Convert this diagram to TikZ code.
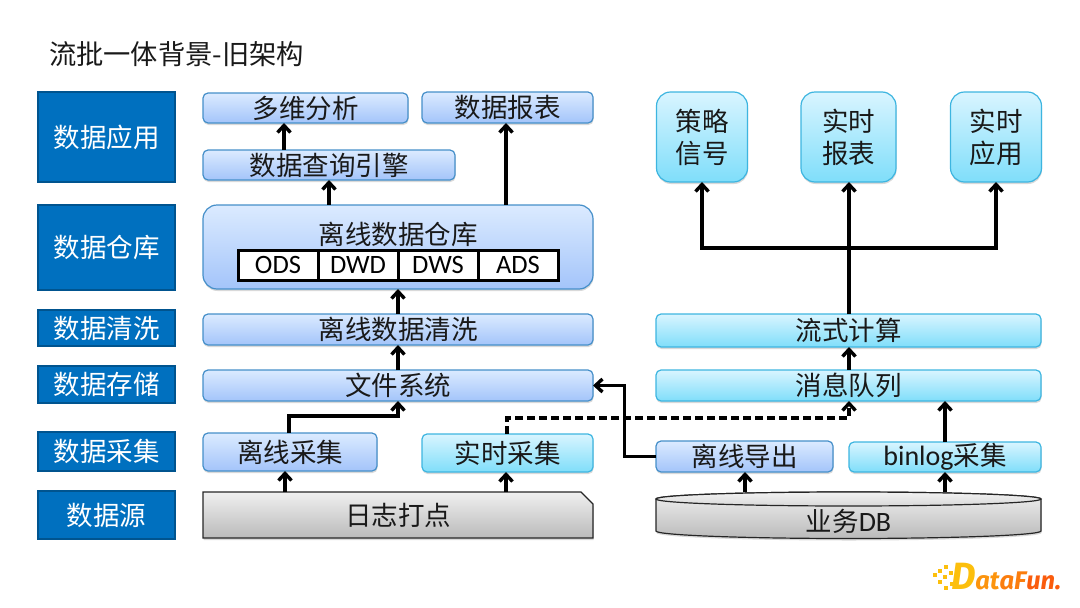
\documentclass[tikz,border=0pt]{standalone}
\usepackage{fontspec}
\setmainfont{Noto Sans CJK SC}
\newfontfamily\latinfont{Carlito}
\newfontfamily\logofont{Fira Sans}
\usepackage{tikz}
\usetikzlibrary{arrows.meta, calc, positioning, shadows, shapes.misc}
\definecolor{layerblue}{rgb}{0.0, 0.44, 0.75}
\definecolor{layeredge}{rgb}{0.0, 0.33, 0.56}
\definecolor{offtop}{rgb}{0.86, 0.92, 1.0}
\definecolor{offbot}{rgb}{0.64, 0.77, 0.98}
\definecolor{offedge}{rgb}{0.27, 0.56, 0.79}
\definecolor{rttop}{rgb}{0.85, 0.96, 1.0}
\definecolor{rtbot}{rgb}{0.50, 0.87, 0.98}
\definecolor{rtedge}{rgb}{0.24, 0.71, 0.88}
\definecolor{logoa}{rgb}{0.99, 0.75, 0.05}
\definecolor{logob}{rgb}{0.99, 0.58, 0.05}
\definecolor{logoc}{rgb}{0.98, 0.36, 0.05}
\tikzstyle{layer} = [rectangle, minimum width=137pt, fill=layerblue, draw=layeredge, line width=2.5pt, text=white, font=\fontsize{26.5}{28}\selectfont]
\tikzstyle{offbox} = [rectangle, rounded corners=5pt, top color=offtop, bottom color=offbot, draw=offedge, line width=1.2pt, text=black!90, font=\fontsize{26.5}{28}\selectfont, drop shadow={shadow xshift=0.5pt, shadow yshift=-2pt, opacity=0.3}]
\tikzstyle{rtbox} = [rectangle, rounded corners=5pt, top color=rttop, bottom color=rtbot, draw=rtedge, line width=1.2pt, text=black!90, font=\fontsize{26.5}{28}\selectfont, drop shadow={shadow xshift=0.5pt, shadow yshift=-2pt, opacity=0.3}]
\tikzstyle{cell} = [rectangle, minimum width=80pt, minimum height=30pt, fill=white, draw=black, line width=3pt, font=\latinfont\fontsize{26.5}{27}\selectfont]
\tikzstyle{graybody} = [top color=black!6, bottom color=black!27, draw=black!85, line width=1.2pt]
\tikzstyle{arrow} = [line width=3.4pt, -{Straight Barb[length=7pt, width=13pt]}]
\tikzstyle{line} = [line width=3.4pt]
\begin{document}
\begin{tikzpicture}[x=1pt, y=-1pt, every node/.style={inner sep=0pt, outer sep=0pt}, align=center]
\useasboundingbox (0,0) rectangle (1080,608);

\node (title) [anchor=west, text=black!90, font=\fontsize{27.3}{28}\selectfont] at (49,54) {流批一体背景-旧架构};

% layers
\node (app) [layer, minimum height=90pt] at (106.5,137) {数据应用};
\node (dw) [layer, minimum height=85pt] at (106.5,247.5) {数据仓库};
\node (clean) [layer, minimum height=36pt] at (106.5,328) {数据清洗};
\node (store) [layer, minimum height=37pt] at (106.5,384.5) {数据存储};
\node (collect) [layer, minimum height=39pt] at (106.5,451.5) {数据采集};
\node (source) [layer, minimum height=48pt] at (106.5,515) {数据源};

% offline side
\node (multi) [offbox, minimum width=205pt, minimum height=30pt] at (305.5,108) {多维分析};
\node (report) [offbox, minimum width=171pt, minimum height=31pt] at (507.5,107.5) {数据报表};
\node (query) [offbox, minimum width=252pt, minimum height=30pt] at (329,165) {数据查询引擎};
\node (offdw) [offbox, rounded corners=14pt, minimum width=390pt, minimum height=84pt] at (398,247) {};
\node (offdwname) at (398,234) [text=black!90, font=\fontsize{26.5}{28}\selectfont] {离线数据仓库};
\node (ods) [cell] at (278,265) {ODS};
\node (dwd) [cell, right=0pt of ods] {DWD};
\node (dws) [cell, right=0pt of dwd] {DWS};
\node (ads) [cell, right=0pt of dws] {ADS};
\node (offclean) [offbox, minimum width=390pt, minimum height=31pt] at (398,329.5) {离线数据清洗};
\node (files) [offbox, minimum width=390pt, minimum height=31pt] at (398,385.5) {文件系统};
\node (offcollect) [offbox, minimum width=174pt, minimum height=38pt] at (290,452) {离线采集};
\node (rtcollect) [rtbox, minimum width=171pt, minimum height=38pt] at (507.5,453) {实时采集};
\node (logs) [rectangle, chamfered rectangle, chamfered rectangle corners=north east, chamfered rectangle xsep=6pt, chamfered rectangle ysep=6pt, graybody, text=black!90, minimum width=390pt, minimum height=46pt, font=\fontsize{26.5}{28}\selectfont, drop shadow={shadow xshift=0.5pt, shadow yshift=-2pt, opacity=0.3}] at (398,515) {日志打点};

% realtime side
\node (signal) [rtbox, rounded corners=14pt, minimum width=91pt, minimum height=90pt, font=\fontsize{26.5}{32}\selectfont] at (702,137) {策略\\信号};
\node (rtreport) [rtbox, rounded corners=14pt, minimum width=95pt, minimum height=90pt, font=\fontsize{26.5}{32}\selectfont] at (848.5,137) {实时\\报表};
\node (rtapp) [rtbox, rounded corners=14pt, minimum width=91pt, minimum height=90pt, font=\fontsize{26.5}{32}\selectfont] at (996,137) {实时\\应用};
\node (stream) [rtbox, minimum width=385pt, minimum height=33pt] at (848.5,330.5) {流式计算};
\node (queue) [rtbox, minimum width=385pt, minimum height=31pt] at (848.5,385.5) {消息队列};
\node (export) [offbox, minimum width=177pt, minimum height=31pt] at (744.5,456.5) {离线导出};
\node (binlog) [rtbox, minimum width=192pt, minimum height=30pt] at (945,457) {{\latinfont\fontsize{28}{28}\selectfont binlog}采集};

% business db
\draw[graybody, drop shadow={shadow xshift=0.5pt, shadow yshift=-2pt, opacity=0.3}] (656,499) -- (656,531) arc[x radius=192.5pt, y radius=7.5pt, start angle=180, end angle=360] -- (1041,499) arc[x radius=192.5pt, y radius=7pt, start angle=0, end angle=180] -- cycle;
\draw[top color=black!5, bottom color=black!15, draw=black!85, line width=1.2pt] (848.5,499) ellipse[x radius=192.5pt, y radius=7pt];
\node (db) [minimum width=385pt, minimum height=32pt, text=black!90, font=\fontsize{26.5}{28}\selectfont] at (848.5,521) {业务{\latinfont\fontsize{28}{28}\selectfont DB}};

% connectors
\coordinate (junction) at (849,248);
\draw[arrow] (284,0 |- query.north) -- (284,0 |- multi.south);
\draw[arrow] (329,0 |- offdw.north) -- (329,0 |- query.south);
\draw[arrow] (506,0 |- offdw.north) -- (506,0 |- report.south);
\draw[arrow] (offclean.north) -- (offdw.south);
\draw[arrow] (files.north) -- (offclean.south);
\draw[arrow] (289,0 |- offcollect.north) |- (398,416) -- (files.south);
\draw[arrow, dash pattern=on 8pt off 4pt] (507,0 |- rtcollect.north) |- (849,418) -- (849,0 |- queue.south);
\draw[arrow] (export.west) -- (624.5,0 |- export.west) |- (files.east);
\draw[arrow] (285,0 |- logs.north) -- (285,0 |- offcollect.south);
\draw[arrow] (506,0 |- logs.north) -- (506,0 |- rtcollect.south);
\draw[arrow] (745,492) -- (745,0 |- export.south);
\draw[arrow] (945,492) -- (binlog.south);
\draw[arrow] (binlog.north) -- (945,0 |- queue.south);
\draw[arrow] (849,0 |- queue.north) -- (849,0 |- stream.south);
\draw[line] (849,0 |- stream.north) -- (junction);
\draw[arrow] (junction) -- (849,0 |- rtreport.south);
\draw[arrow] (junction) -| (signal.south);
\draw[arrow] (junction) -| (rtapp.south);

% logo
\foreach \px/\py in {933/577, 938/573, 944/569, 943/579, 938/584, 949/575, 944/590, 950/586}
  \fill[logoa] (\px,\py) rectangle +(4,-4);
\node (logo) [anchor=west, font=\logofont\bfseries\itshape\fontsize{25.5}{28}\selectfont] at (951,577) {\textcolor{logoa}{\fontsize{38}{38}\selectfont D}\textcolor{logob}{at}\textcolor{logob!60!logoc}{aF}\textcolor{logoc}{un.}};
\end{tikzpicture}
\end{document}
